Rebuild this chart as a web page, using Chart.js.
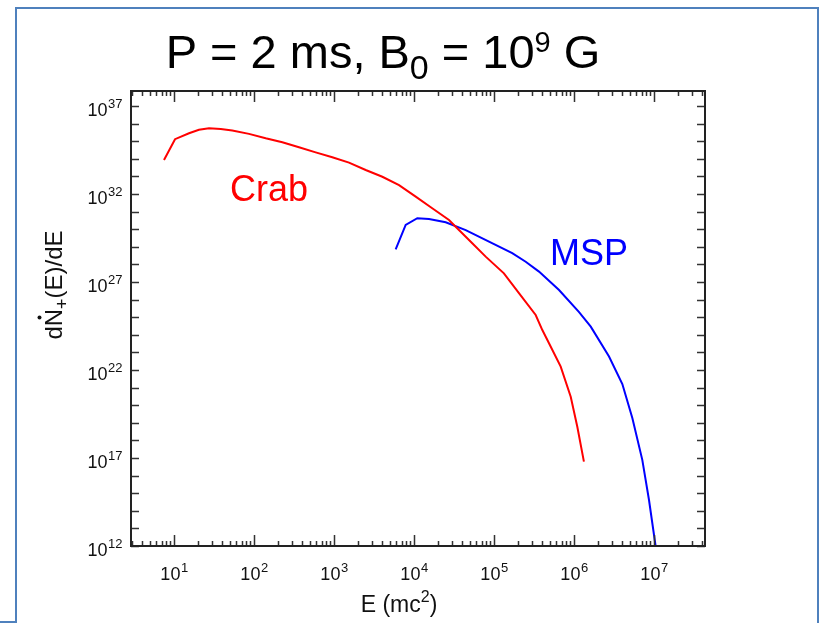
<!DOCTYPE html>
<html><head><meta charset="utf-8">
<script src="https://cdn.jsdelivr.net/npm/chart.js@4.4.0/dist/chart.umd.min.js"></script>
<style>
html,body{margin:0;padding:0;background:#fff;}
#wrap{position:relative;width:819px;height:624px;overflow:hidden;background:#fff;}
#frame{position:absolute;left:15px;top:7px;width:804px;height:616px;box-sizing:border-box;border:2px solid #4f81bd;border-bottom:none;}
#foot{position:absolute;left:0;top:621px;width:17px;height:2px;background:#4f81bd;}
canvas{position:absolute;left:0;top:0;}
</style></head><body>
<div id="wrap"><div id="frame"></div><div id="foot"></div><canvas id="c" width="819" height="624"></canvas></div>
<script>
// ---- data ----
const crabEnergy = [7.5, 10.3, 15.4, 20.5, 27.4, 38.4, 53.5, 86.6, 140, 226, 365, 590, 952, 1540, 2490, 4020, 6500, 10500, 16900, 27400, 33200, 53500, 78700, 133000, 205000, 332000, 402000, 487000, 682000, 910000, 1.1e6, 1.33e6];
const crabRate   = [8.5e33, 1.3e35, 2.8e35, 4.4e35, 5.4e35, 4.9e35, 4.0e35, 2.6e35, 1.46e35, 8.7e34, 4.5e34, 2.3e34, 1.23e34, 6.0e33, 2.3e33, 9.5e32, 3.2e32, 7.1e31, 1.55e31, 3.3e30, 1.38e30, 1.6e29, 2.75e28, 3.1e27, 2.3e26, 1.33e25, 1.86e24, 3.3e23, 1.55e22, 3.0e20, 6.0e18, 6.2e16];
const mspEnergy  = [5900, 7870, 11000, 15400, 24900, 44300, 86600, 169000, 249000, 365000, 650000, 1.15e6, 1.62e6, 2.74e6, 4.02e6, 5.36e6, 7.14e6, 8.66e6, 1.05e7];
const mspRate    = [7.2e28, 1.74e30, 4.2e30, 3.8e30, 2.45e30, 8.9e29, 1.95e29, 4.3e28, 1.41e28, 3.9e27, 3.5e26, 2.0e25, 2.9e24, 5.8e22, 1.6e21, 1.86e19, 7.8e16, 4.1e14, 9.1e11];
const seriesNames = ['Crab', 'MSP'];
const xTickValues = [1e1, 1e2, 1e3, 1e4, 1e5, 1e6, 1e7];
const yTickValues = [1e12, 1e17, 1e22, 1e27, 1e32, 1e37];
const titleText = 'P = 2 ms, B0 = 10^9 G';
const xTitleText = 'E (mc²)';
const yTitleText = 'dṄ₊(E)/dE';

const FONT = 'Arial, "Liberation Sans", sans-serif';

function sci(ctx, exp, x, y, align, base, sup) {
  ctx.textAlign = 'left'; ctx.textBaseline = 'alphabetic';
  ctx.font = base + 'px ' + FONT; const w1 = ctx.measureText('10').width;
  ctx.font = sup + 'px ' + FONT; const w2 = ctx.measureText(String(exp)).width;
  const x0 = align === 'right' ? x - w1 - w2 : x - (w1 + w2) / 2;
  ctx.font = base + 'px ' + FONT; ctx.fillText('10', x0, y);
  ctx.font = sup + 'px ' + FONT; ctx.fillText(String(exp), x0 + w1 + 0.5, y - base * 0.42);
}

function drawParts(ctx, parts, cx, y) {
  let total = 0;
  parts.forEach(p => { ctx.font = p[1] + 'px ' + FONT; p.w = ctx.measureText(p[0]).width; total += p.w; });
  let x = cx - total / 2;
  ctx.textAlign = 'left'; ctx.textBaseline = 'alphabetic';
  parts.forEach(p => { ctx.font = p[1] + 'px ' + FONT; ctx.fillText(p[0], x, y + p[2]); p.x = x; x += p.w; });
  return parts;
}

const decor = {
  id: 'decor',
  afterDatasetsDraw(chart) {
    const ctx = chart.ctx, a = chart.chartArea, xs = chart.scales.x, ys = chart.scales.y;
    ctx.save();
    // ticks (inward, all four sides)
    ctx.strokeStyle = '#333'; ctx.lineWidth = 1.5;
    const xmin = Math.log10(xs.min), xmax = Math.log10(xs.max);
    ctx.beginPath();
    for (let d = Math.floor(xmin); d <= Math.ceil(xmax); d++) {
      for (let k = 1; k <= 9; k++) {
        const v = k * Math.pow(10, d);
        if (v < xs.min || v > xs.max) continue;
        const px = Math.round(xs.getPixelForValue(v)) + 0.5;
        const len = k === 1 ? 11 : 5;
        ctx.moveTo(px, a.bottom); ctx.lineTo(px, a.bottom - len);
        ctx.moveTo(px, a.top); ctx.lineTo(px, a.top + len);
      }
    }
    const ymin = Math.log10(ys.min), ymax = Math.log10(ys.max);
    for (let d = Math.ceil(ymin); d <= Math.floor(ymax); d++) {
      const py = Math.round(ys.getPixelForValue(Math.pow(10, d))) + 0.5;
      ctx.moveTo(a.left, py); ctx.lineTo(a.left + 8, py);
      ctx.moveTo(a.right, py); ctx.lineTo(a.right - 8, py);
    }
    ctx.stroke();
    // frame
    ctx.strokeStyle = '#222'; ctx.lineWidth = 2;
    ctx.strokeRect(a.left, a.top, a.right - a.left, a.bottom - a.top);

    // tick labels
    ctx.fillStyle = '#111';
    xTickValues.forEach(v => {
      sci(ctx, Math.round(Math.log10(v)), xs.getPixelForValue(v), a.bottom + 34, 'center', 18, 13);
    });
    yTickValues.forEach(v => {
      sci(ctx, Math.round(Math.log10(v)), a.left - 9, ys.getPixelForValue(v) + 10, 'right', 18, 13);
    });

    // x title: E (mc²)
    ctx.fillStyle = '#111';
    drawParts(ctx, [['E (mc', 23, 0], ['2', 16, -10], [')', 23, 0]], 399, a.bottom + 66);

    // y title: dN(dot)+(E)/dE rotated
    ctx.save();
    ctx.translate(62, 285);
    ctx.rotate(-Math.PI / 2);
    const yp = drawParts(ctx, [['d', 24, 0], ['N', 24, 0], ['+', 18, 6], ['(E)/dE', 24, 0]], 0, 0);
    ctx.beginPath();
    ctx.arc(yp[1].x + yp[1].w / 2, -22.5, 2, 0, Math.PI * 2);
    ctx.fill();
    ctx.restore();

    // main title
    ctx.fillStyle = '#000';
    drawParts(ctx, [['P = 2 ms, B', 47, 0], ['0', 34, 11], [' = 10', 47, 0], ['9', 29, -16], [' G', 47, 0]], 383, 68);

    // series annotations
    ctx.font = '36px ' + FONT; ctx.textAlign = 'left'; ctx.textBaseline = 'alphabetic';
    ctx.fillStyle = '#ff0000';
    ctx.fillText(seriesNames[0], xs.getPixelForValue(50), ys.getPixelForValue(4e31));
    ctx.fillStyle = '#0000ff';
    ctx.fillText(seriesNames[1], xs.getPixelForValue(5.0e5), ys.getPixelForValue(9.3e27));
    ctx.restore();
  }
};

new Chart(document.getElementById('c').getContext('2d'), {
  type: 'line',
  data: {
    datasets: [
      { label: seriesNames[0], data: crabEnergy.map((e, i) => ({ x: e, y: crabRate[i] })),
        borderColor: '#ff0000', borderWidth: 2, pointRadius: 0, tension: 0, fill: false },
      { label: seriesNames[1], data: mspEnergy.map((e, i) => ({ x: e, y: mspRate[i] })),
        borderColor: '#0000ff', borderWidth: 2, pointRadius: 0, tension: 0, fill: false }
    ]
  },
  options: {
    responsive: false, animation: false,
    layout: { padding: { left: 131, right: 114, top: 91, bottom: 78 } },
    plugins: { legend: { display: false }, tooltip: { enabled: false }, title: { display: false } },
    scales: {
      x: { type: 'logarithmic', display: false, min: Math.pow(10, 0.4625), max: Math.pow(10, 7.6375) },
      y: { type: 'logarithmic', display: false, min: 1e12, max: Math.pow(10, 37.85) }
    }
  },
  plugins: [decor]
});
</script>
</body></html>
